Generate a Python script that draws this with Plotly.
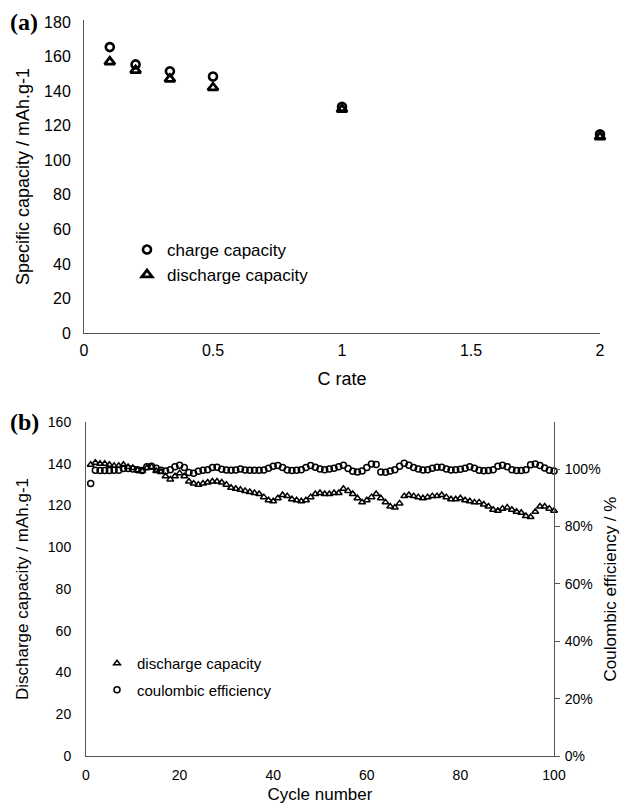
import plotly.graph_objects as go

# ---------- panel (a) data ----------
c_rate = [0.1, 0.2, 0.333, 0.5, 1, 2]
charge_cap = [165.5, 155.5, 151.5, 148.5, 131, 115]
discharge_cap_a = [157, 152, 147, 142, 129.5, 113.5]
x_ticks_a = [0, 0.5, 1, 1.5, 2]
x_ticklabels_a = ["0", "0.5", "1", "1.5", "2"]

# ---------- panel (b) data ----------
cycles = list(range(1, 101))
discharge_cap_b = [
    139.5, 140.5, 140, 140, 139.5, 139, 139, 139.5, 138.5, 138,
    137, 136.5, 138, 138.5, 136.5, 136, 134, 132.5, 134, 135.5,
    134, 131.5, 130.5, 130, 130.5, 131, 131.5, 131.5, 131, 130,
    128.5, 128, 127.5, 127, 126.5, 126, 125.5, 124, 122.5, 122,
    123.5, 125, 124.5, 123, 122.5, 122, 122.5, 124, 125.5, 126,
    125.5, 125.5, 126, 126, 128, 127, 125.5, 123.5, 121.5, 122.5,
    124, 125.5, 123.5, 121.5, 119.5, 119, 121, 124.5, 125, 124.5,
    124, 123.5, 124, 124.5, 124.5, 125, 124, 123, 123, 123.5,
    122.5, 122, 121.5, 121.5, 120.5, 119.5, 118, 117.5, 118.5, 119,
    118, 117, 116.5, 115, 114.5, 117, 119.5, 119.5, 118.5, 117.5,
]
coulombic_eff = [
    95.0, 99.6, 99.5, 99.5, 99.5, 99.6, 99.6, 100.2, 100.2, 100.0,
    99.8, 99.5, 100.8, 101.0, 100.3, 99.6, 99.3, 99.8, 100.8, 101.3,
    100.5, 98.8, 98.5, 99.2, 99.6, 99.8, 100.5, 100.6, 99.9, 99.7,
    99.6, 99.7, 100.0, 99.7, 99.6, 99.6, 99.6, 99.7, 100.3, 101.0,
    101.2, 100.5, 99.7, 99.5, 99.6, 99.8, 100.5, 101.2, 100.6, 100.0,
    99.8, 100.0, 100.3, 100.8, 101.3, 100.2, 99.2, 99.0, 99.3, 100.5,
    101.8, 101.6, 99.0, 98.9, 99.3, 99.8, 101.0, 102.0, 101.3, 100.5,
    100.0, 99.7, 99.8, 100.3, 100.6, 100.6, 100.0, 99.7, 99.8, 99.9,
    100.3, 100.8, 100.3, 99.6, 99.4, 99.5, 99.8, 101.0, 101.3, 100.8,
    99.8, 99.5, 99.5, 99.8, 101.5, 101.8, 101.2, 100.4, 99.6, 99.3,
]
coulombic_eff_frac = [v / 100 for v in coulombic_eff]

W, H = 624, 804
FONT = "Liberation Sans, Arial, Helvetica, sans-serif"
AXC = "#555555"


def px_x(v):
    return v / W


def px_y(v):
    return 1 - v / H


fig = go.Figure()

# (a) traces
fig.add_trace(go.Scatter(
    x=c_rate, y=charge_cap, mode="markers", name="charge capacity", cliponaxis=False,
    marker=dict(symbol="circle-open", size=8, color="black", line=dict(width=2.6, color="black")),
    xaxis="x", yaxis="y", legend="legend"))
fig.add_trace(go.Scatter(
    x=c_rate, y=discharge_cap_a, mode="markers", name="discharge capacity", cliponaxis=False,
    marker=dict(symbol="triangle-up-open", size=9, color="black", line=dict(width=2.8, color="black")),
    xaxis="x", yaxis="y", legend="legend"))

# (b) traces
fig.add_trace(go.Scatter(
    x=cycles, y=discharge_cap_b, mode="markers", name="discharge capacity", cliponaxis=False,
    marker=dict(symbol="triangle-up-open", size=6, color="black", line=dict(width=1.5, color="black")),
    xaxis="x2", yaxis="y2", legend="legend2", legendgroup="g1"))
fig.add_trace(go.Scatter(
    x=cycles, y=coulombic_eff_frac, mode="markers", name="coulombic efficiency", cliponaxis=False,
    marker=dict(symbol="circle-open", size=6, color="black", line=dict(width=1.5, color="black")),
    xaxis="x2", yaxis="y3", legend="legend2", legendgroup="g2"))

base_axis = dict(showgrid=False, zeroline=False, showline=True, linecolor=AXC, linewidth=1,
                 ticks="", automargin=False)
font_a = dict(family=FONT, size=16, color="black")
font_b = dict(family=FONT, size=14, color="black")

fig.update_layout(
    width=W, height=H,
    margin=dict(l=0, r=0, t=0, b=0),
    paper_bgcolor="white", plot_bgcolor="white",
    font=dict(family=FONT, color="black"),
    showlegend=True,
    xaxis=dict(**base_axis, tickfont=font_a, domain=[px_x(84), px_x(600)], range=[0, 2],
               tickvals=x_ticks_a, ticktext=x_ticklabels_a, anchor="y",
               ticklabelstandoff=3,
               title=dict(text="C rate", font=dict(size=18), standoff=14)),
    yaxis=dict(**base_axis, tickfont=font_a, domain=[px_y(333), px_y(20)], range=[0, 181.2],
               tickvals=list(range(0, 181, 20)), anchor="x", ticklabelstandoff=9,
               title=dict(text="Specific capacity / mAh.g-1", font=dict(size=18), standoff=9)),
    xaxis2=dict(**base_axis, tickfont=font_b, domain=[px_x(86), px_x(554)], range=[0, 100],
                tickvals=list(range(0, 101, 20)), anchor="y2", ticklabelstandoff=6,
                title=dict(text="Cycle number", font=dict(size=17), standoff=11)),
    yaxis2=dict(**base_axis, tickfont=font_b, domain=[px_y(756), px_y(422)], range=[0, 160],
                tickvals=list(range(0, 161, 20)), anchor="x2", ticklabelstandoff=11,
                title=dict(text="Discharge capacity / mAh.g-1", font=dict(size=17), standoff=14)),
    yaxis3=dict(showgrid=False, zeroline=False, showline=True, linecolor=AXC, linewidth=1,
                ticks="outside", ticklen=5, tickcolor=AXC, automargin=False,
                tickfont=font_b,
                overlaying="y2", side="right", anchor="x2", range=[0, 1.164],
                tickvals=[0, 0.2, 0.4, 0.6, 0.8, 1.0], tickformat=".0%", ticklabelstandoff=2,
                title=dict(text="Coulombic efficiency / %", font=dict(size=17), standoff=4)),
    legend=dict(x=px_x(127), y=px_y(232), xanchor="left", yanchor="top",
                bgcolor="rgba(0,0,0,0)", font=dict(family=FONT, size=17, color="black"),
                itemsizing="trace", tracegroupgap=0),
    legend2=dict(x=px_x(97), y=px_y(647), xanchor="left", yanchor="top",
                 bgcolor="rgba(0,0,0,0)", font=dict(family=FONT, size=15, color="black"),
                 itemsizing="trace", tracegroupgap=4),
    annotations=[
        dict(text="<b>(a)</b>", x=px_x(8), y=px_y(22), xref="paper", yref="paper",
             xanchor="left", yanchor="middle", showarrow=False,
             font=dict(family="Liberation Serif, Times New Roman, serif", size=24, color="black")),
        dict(text="<b>(b)</b>", x=px_x(8), y=px_y(422), xref="paper", yref="paper",
             xanchor="left", yanchor="middle", showarrow=False,
             font=dict(family="Liberation Serif, Times New Roman, serif", size=24, color="black")),
    ],
)

fig.write_html("out.html", config={"displayModeBar": False},
               post_script="document.body.style.margin='0';")
